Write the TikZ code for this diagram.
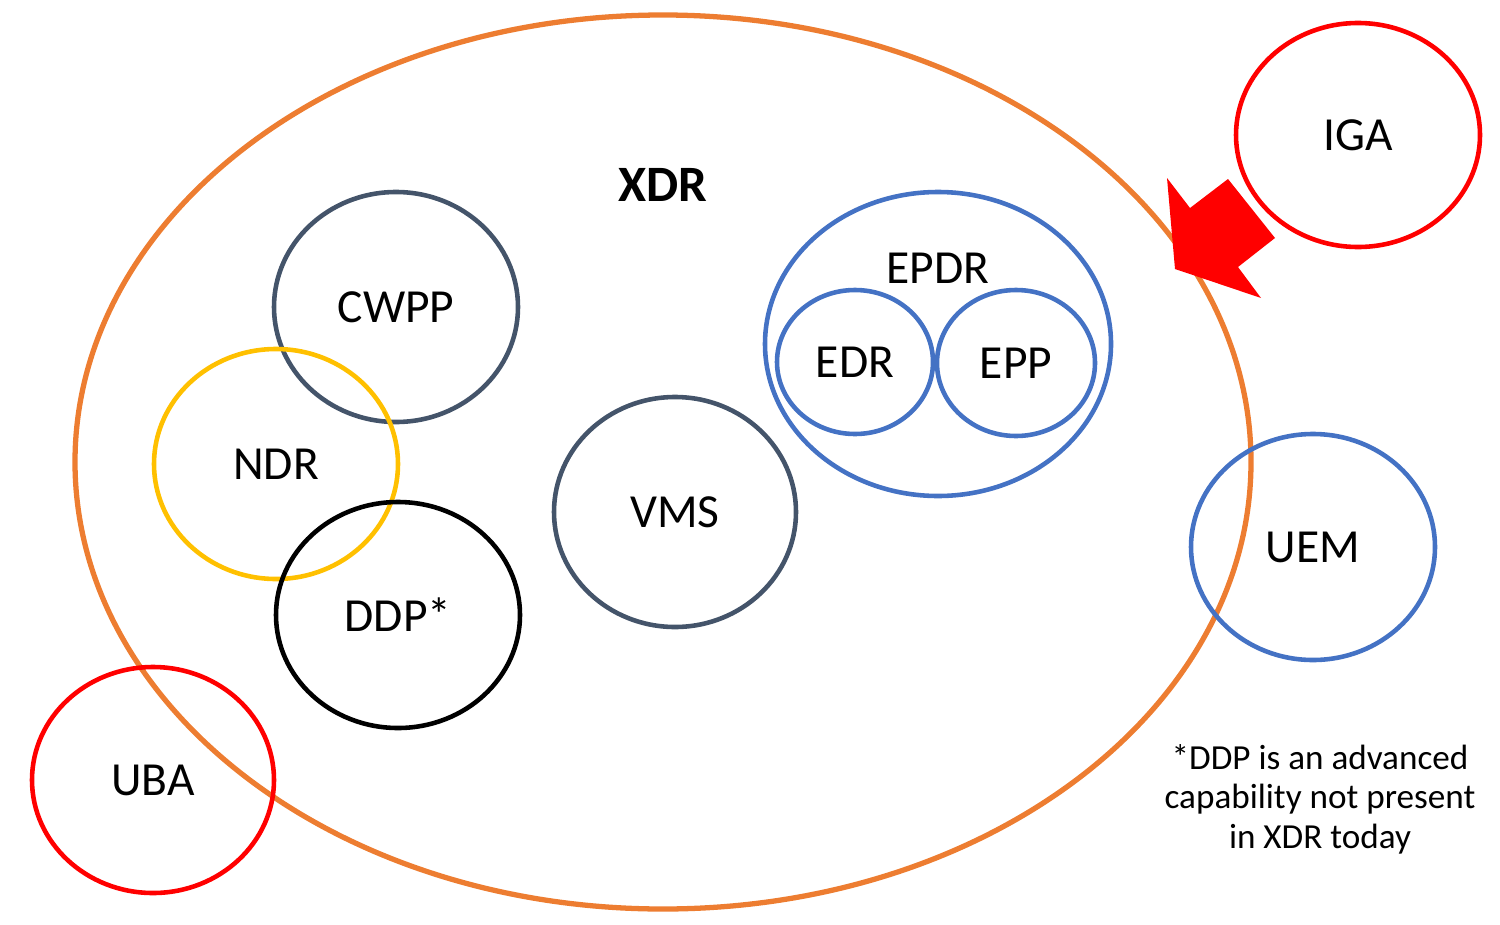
\documentclass[tikz,border=0pt]{standalone}
\usepackage{fontspec}
\setmainfont{Carlito}
\begin{document}
\begin{tikzpicture}[x=0.01cm,y=-0.01cm,
  ring/.style={draw,line width=1.3pt},
  lbl/.style={font=\fontsize{13.5}{16}\selectfont}]
\definecolor{orng}{HTML}{ED7D31}
\definecolor{slate}{HTML}{44546A}
\definecolor{gold}{HTML}{FFC000}
\definecolor{blu}{HTML}{4472C4}
\definecolor{rd}{HTML}{FF0000}
\useasboundingbox (0,0) rectangle (1500,924);
\draw[ring,orng,line width=1.5pt] (663,462) ellipse [x radius=588,y radius=447];
\node[font=\fontsize{14.5}{17}\selectfont\bfseries] (xdr) at (663,185) {XDR};
\fill[rd] (1167,178) -- (1190,208) -- (1228,179) -- (1275,238) -- (1238,267) -- (1261,298) -- (1175,269) -- cycle;
\draw[ring,rd] (1358,135) ellipse [x radius=122,y radius=112];
\node[lbl] (iga) at (1358,135) {IGA};
\draw[ring,slate] (396,307) ellipse [x radius=122,y radius=115];
\node[lbl] (cwpp) at (396,307) {CWPP};
\draw[ring,gold] (276,464) ellipse [x radius=122,y radius=115];
\node[lbl] (ndr) at (276,464) {NDR};
\draw[ring,black] (398,615) ellipse [x radius=122,y radius=113];
\node[lbl] (ddp) at (398,615) {DDP*};
\draw[ring,slate] (675,512) ellipse [x radius=121,y radius=115];
\node[lbl] (vms) at (675,512) {VMS};
\draw[ring,blu] (938,344) ellipse [x radius=173,y radius=152];
\node[lbl] (epdr) at (938,268) {EPDR};
\draw[ring,blu] (855,362) ellipse [x radius=78,y radius=72];
\node[lbl] (edr) at (855,362) {EDR};
\draw[ring,blu] (1016,363) ellipse [x radius=79,y radius=73];
\node[lbl] (epp) at (1016,363) {EPP};
\draw[ring,blu] (1313,547) ellipse [x radius=122,y radius=113];
\node[lbl] (uem) at (1313,547) {UEM};
\draw[ring,rd] (153,780) ellipse [x radius=121,y radius=113];
\node[lbl] (uba) at (153,780) {UBA};
\node[align=center,font=\fontsize{10}{11.2}\selectfont] (note) at (1320,799) {*DDP is an advanced\\capability not present\\in XDR today};
\end{tikzpicture}
\end{document}
